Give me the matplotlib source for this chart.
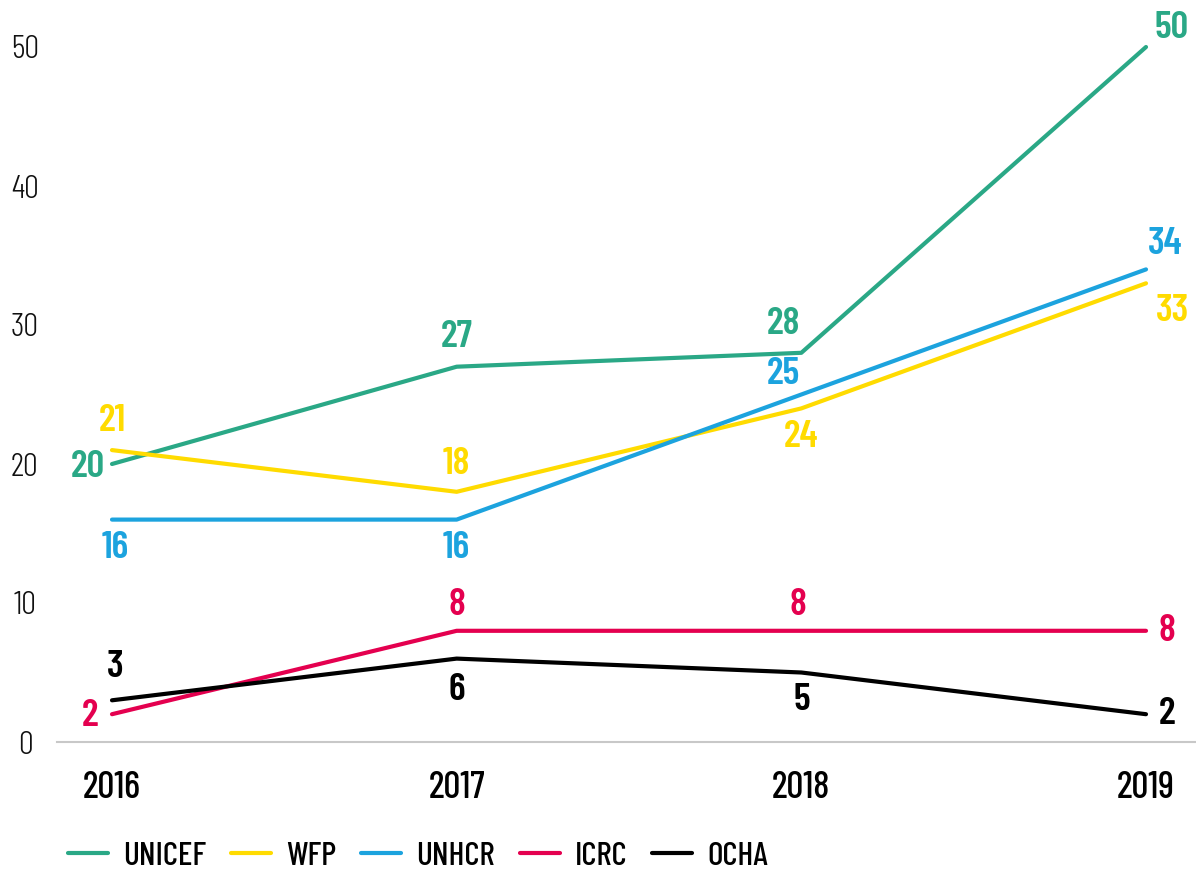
import matplotlib
matplotlib.use('Agg')
import matplotlib.pyplot as plt
from matplotlib import font_manager

years = ['2016', '2017', '2018', '2019']
unicef = [20, 27, 28, 50]
wfp = [21, 18, 24, 33]
unhcr = [16, 16, 25, 34]
icrc = [2, 8, 8, 8]
ocha = [3, 6, 5, 2]
yticks = [0, 10, 20, 30, 40, 50]

# узкий шрифт, как в оригинале
names = {f.name for f in font_manager.fontManager.ttflist}
FONT = 'Barlow Condensed' if 'Barlow Condensed' in names else 'DejaVu Sans'
plt.rcParams['font.family'] = [FONT, 'DejaVu Sans']

series = [
    ('UNICEF', unicef, '#2aa886'),
    ('WFP', wfp, '#ffdb00'),
    ('UNHCR', unhcr, '#1ca3de'),
    ('ICRC', icrc, '#e4004f'),
    ('OCHA', ocha, '#000000'),
]

# смещения подписей в пикселях (dx, dy)
offsets = {
    'UNICEF': [(-24, -3), (0, 30), (-18, 29), (26, 19)],
    'WFP': [(0, 29), (0, 28), (0, -29), (26, -28)],
    'UNHCR': [(3, -28), (0, -28), (-18, 20), (19, 25)],
    'ICRC': [(-22, -2), (0, 26), (-3, 26), (21, 0)],
    'OCHA': [(3, 33), (0, -31), (0, -27), (21, 0)],
}

fig = plt.figure(figsize=(11.96, 8.75), dpi=100)
ax = fig.add_axes([57 / 1196, 133 / 875, 1 - 57 / 1196, 712 / 875])

x = list(range(len(years)))
for name, vals, color in series:
    ax.plot(x, vals, color=color, linewidth=3.0, solid_capstyle='round', label=name)
    for i, v in enumerate(vals):
        dx, dy = offsets[name][i]
        ax.annotate(str(v), (i, v), xytext=(dx * 0.72, dy * 0.72), textcoords='offset points',
                    ha='center', va='center', color=color, fontsize=28, fontweight=600)

ax.set_xlim(-55 / 344.7, 3 + 50 / 344.7)
ax.set_ylim(0, 712 / 13.9)
ax.set_xticks(x)
ax.set_xticklabels(years, fontsize=27, fontweight=500)
ax.set_yticks(yticks)
ax.set_yticklabels([str(t) for t in yticks], fontsize=24, fontweight=300, color='#111111')
ax.tick_params(length=0)
ax.tick_params(axis='x', pad=21)
ax.tick_params(axis='y', pad=0)
for lbl in ax.get_yticklabels():
    lbl.set_horizontalalignment('center')
    lbl.set_x(-32 / 1139)
for s in ['top', 'right', 'left']:
    ax.spines[s].set_visible(False)
ax.spines['bottom'].set_color('#c8c8c8')
ax.spines['bottom'].set_linewidth(1.5)

# легенда внизу в одну строку
leg = ax.legend(loc='lower left', bbox_to_anchor=(-0.002, -0.2), ncol=5, frameon=False,
                prop={'size': 24, 'weight': 500}, handlelength=1.2, handletextpad=0.45,
                columnspacing=0.75, borderaxespad=0)

fig.savefig('out.png', dpi=100)
